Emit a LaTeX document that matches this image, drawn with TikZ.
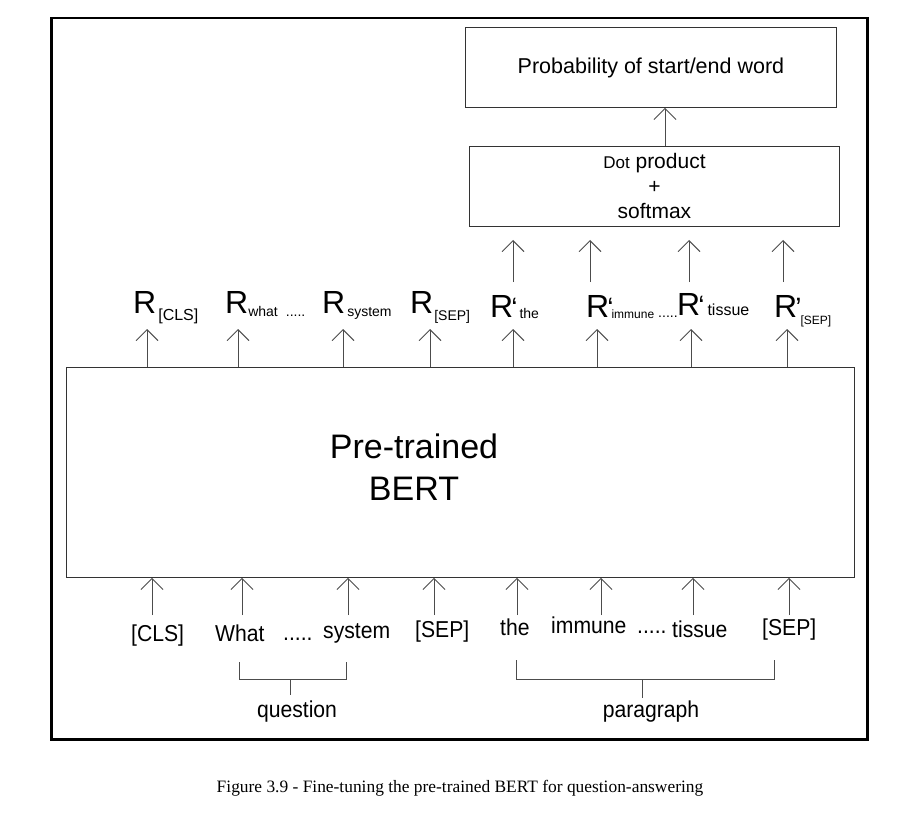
\documentclass[tikz,border=0pt]{standalone}
\usepackage{fontspec}
\setmainfont{Liberation Sans}
\newfontfamily\tokfont[FakeStretch=0.92]{Liberation Sans}
\newfontfamily\capfont{Liberation Serif}
\usetikzlibrary{arrows.meta}
\newcommand\fs[1]{\fontsize{#1}{#1}\selectfont}
\begin{document}
\begin{tikzpicture}[x=1pt,y=-1pt,
  arr/.style={draw=black!70, line width=0.9pt, -{Straight Barb[length=11pt,width=22pt,line width=0.9pt]}},
  box/.style={draw=black!80, line width=0.9pt, inner sep=0pt, anchor=north west},
  lbl/.style={anchor=base west, inner sep=0pt},
  tok/.style={anchor=base west, inner sep=0pt, font=\tokfont\fs{23}},
  grp/.style={anchor=base, inner sep=0pt, font=\tokfont\fs{23}},
  brk/.style={draw=black!70, line width=0.9pt}]
\useasboundingbox (0,0) rectangle (913,813);
\node[draw, line width=2.5pt, minimum width=816pt, minimum height=721pt, anchor=north west, inner sep=0pt] (frame) at (50,17) {};

% top boxes
\node[box, minimum width=371pt, minimum height=80pt] (prob) at (465,27) {\fs{21.5}Probability of start/end word};
\node[box, minimum width=370pt, minimum height=80pt, align=center, font=\fontsize{21}{25}\selectfont] (dot) at (469,146)
  {{\fontsize{17}{25}\selectfont Dot} product\\+\\softmax};
\coordinate (pa) at (665,0);
\draw[arr] (dot.north -| pa) -- (prob.south -| pa);

% BERT box
\node[box, minimum width=788pt, minimum height=210pt] (bert) at (66,367) {};
\node[align=center, inner sep=0pt, font=\fontsize{34}{42}\selectfont] (bertt) at (414,467) {Pre-trained\\BERT};

% representation labels
\node[lbl] (r1) at (133,313) {\fs{32}R\hspace{2pt}\fs{16}\raisebox{-7pt}{[CLS]}};
\node[lbl] (r2) at (225,313) {\fs{32}R\fs{14}\raisebox{-3pt}{what}\hspace{8pt}\raisebox{-3pt}{.....}};
\node[lbl] (r3) at (322,313) {\fs{32}R\hspace{2pt}\fs{14}\raisebox{-3pt}{system}};
\node[lbl] (r4) at (410,313) {\fs{32}R\hspace{1pt}\fs{14}\raisebox{-7pt}{[SEP]}};
\node[lbl] (r5) at (490,317) {\fs{32}R\kern-2pt{\fs{28}‘}\kern2pt\fs{14}\raisebox{-1pt}{the}};
\node[lbl] (r6) at (586,317) {\fs{32}R\kern-2pt{\fs{28}‘}\kern-2pt\fs{12}\raisebox{-1pt}{immune}\hspace{4pt}\fs{14}.....};
\node[lbl] (r7) at (677,315) {\fs{32}R\kern-2pt{\fs{28}‘}\kern3pt\fs{16}tissue};
\node[lbl] (r8) at (774,317) {\fs{32}R\kern-2pt{\fs{28}’}\kern-1pt\fs{12}\raisebox{-7pt}{[SEP]}};

% arrows BERT -> R
\foreach \n/\x in {1/147,2/238,3/343,4/430,5/513,6/597,7/691,8/787}{
  \coordinate (a\n) at (\x,329);
  \draw[arr] (bert.north -| a\n) -- (a\n);
}
% arrows R' -> dot box (free ends)
\foreach \n/\x in {5/513,6/590,7/689,8/783}{
  \coordinate (u\n) at (\x,282);
  \coordinate (v\n) at (\x,240);
  \draw[arr] (u\n) -- (v\n);
}

% input tokens
\node[tok] (t1) at (131,641) {[CLS]};
\node[tok] (t2) at (215,641) {What};
\node[tok] (d1) at (283,640) {.....};
\node[tok] (t3) at (323,638) {system};
\node[tok] (t4) at (415,637) {[SEP]};
\node[tok] (t5) at (500,635) {the};
\node[tok] (t6) at (551,633) {immune};
\node[tok] (d2) at (637,633) {.....};
\node[tok] (t7) at (672,637) {tissue};
\node[tok] (t8) at (762,635) {[SEP]};

\foreach \n/\x in {1/152,2/242,3/348,4/434,5/517,6/601,7/693,8/789}{
  \coordinate (b\n) at (\x,615);
  \draw[arr] (b\n) -- (bert.south -| b\n);
}

% groups
\draw[brk] (239,662) -- (239,679) -- (346,679) -- (346,662);
\draw[brk] (290,679) -- (290,695);
\node[grp] (q) at (297,717) {question};
\draw[brk] (516,660) -- (516,679) -- (774,679) -- (774,660);
\draw[brk] (642,679) -- (642,698);
\node[grp] (p) at (651,717) {paragraph};

% caption
\node[anchor=base, inner sep=0pt, font=\capfont\fs{17.4}] (cap) at (460,792) {Figure 3.9 - Fine-tuning the pre-trained BERT for question-answering};
\end{tikzpicture}
\end{document}
